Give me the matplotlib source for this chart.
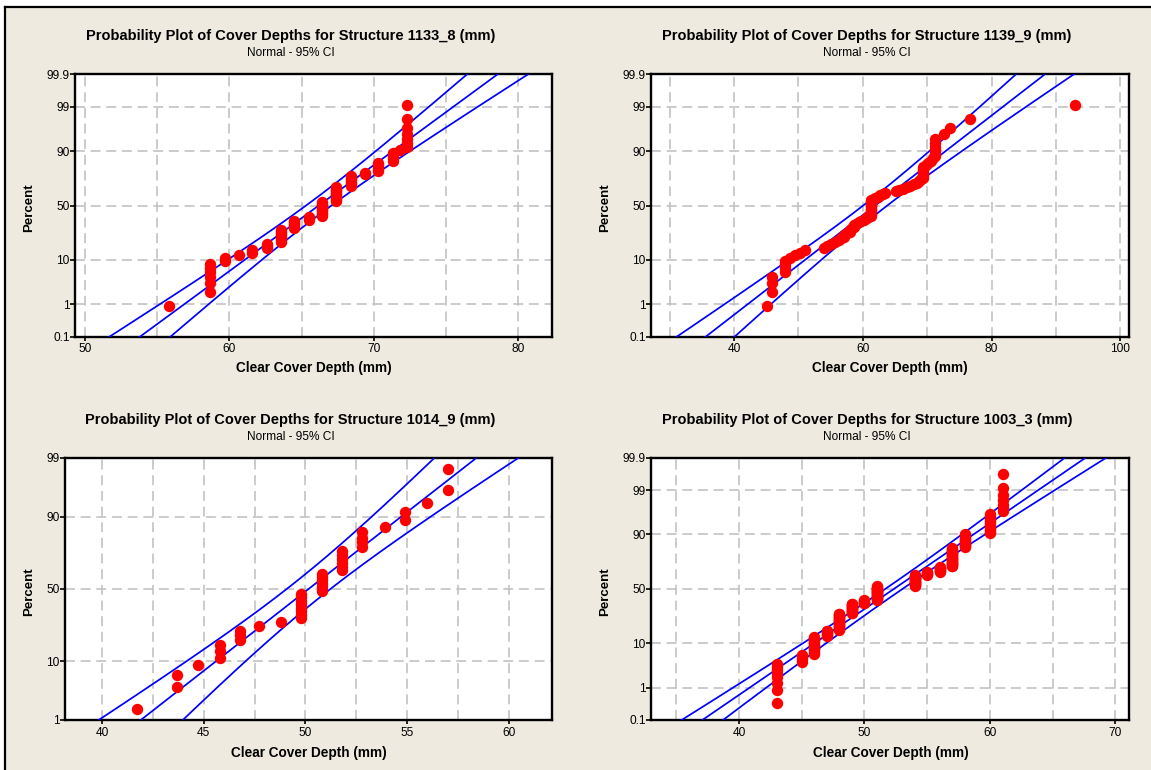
import math
from statistics import NormalDist
import numpy as np
import matplotlib
matplotlib.use("Agg")
import matplotlib.pyplot as plt
from matplotlib.patches import Rectangle
from matplotlib.lines import Line2D
from matplotlib.ticker import FixedLocator, FixedFormatter

plt.rcParams['font.family'] = ['Liberation Sans', 'DejaVu Sans']

W, H = 1151, 770
BEIGE = '#EEEAE0'

# ---------------- data (distinct depth values and how many readings at each) ----------------
s1_values = [55.8, 58.7, 59.7, 60.7, 61.6, 62.6, 63.6, 64.5, 65.5, 66.4, 67.4, 68.4,
             69.4, 70.3, 71.3, 71.8, 72.3]
s1_counts = [1, 6, 2, 1, 2, 3, 8, 6, 3, 11, 11, 7, 2, 5, 4, 1, 7]

s2_values = [45.1, 45.9, 47.9, 48.7, 49.5, 50.3, 51.0,
             54.0, 54.5, 55.1, 55.7, 56.3,
             56.6, 57.1, 57.5, 58.0, 58.3,
             58.6, 59.0, 59.4, 59.7, 60.2, 60.6,
             61.3,
             61.9, 62.3, 62.7, 63.1, 63.5,
             65.1, 65.6, 66.2, 66.8, 67.4, 67.9, 68.4, 68.8, 69.1,
             69.4,
             69.8, 70.2, 70.6, 70.9,
             71.2,
             72.6, 73.6, 76.6, 92.9]
s2_counts = [1, 3, 4, 1, 1, 1, 1,
             1, 1, 1, 1, 1,
             1, 2, 1, 2, 1,
             2, 1, 1, 1, 1, 2,
             13,
             1, 1, 1, 1, 1,
             1, 1, 1, 1, 1, 1, 1, 1, 1,
             7,
             1, 1, 1, 1,
             6,
             1, 1, 1, 1]

s3_values = [41.7, 43.7, 44.7, 45.8, 46.8, 47.7, 48.8, 49.8, 50.8, 51.8, 52.8, 53.9,
             54.9, 56.0, 57.0]
s3_counts = [1, 2, 1, 3, 3, 1, 1, 8, 6, 6, 4, 1, 2, 1, 2]

s4_values = [43, 45, 46, 47, 48, 49, 50, 51, 54, 55, 56, 57, 58, 60, 61]
s4_counts = [8, 4, 14, 7, 23, 17, 6, 26, 21, 5, 9, 27, 14, 12, 7]

titles = ["Probability Plot of Cover Depths for Structure 1133_8 (mm)",
          "Probability Plot of Cover Depths for Structure 1139_9 (mm)",
          "Probability Plot of Cover Depths for Structure 1014_9 (mm)",
          "Probability Plot of Cover Depths for Structure 1003_3 (mm)"]
subtitle = "Normal - 95% CI"
xlabel = "Clear Cover Depth (mm)"
ylabel = "Percent"

pct_ticks_full = [0.1, 1, 10, 50, 90, 99, 99.9]
pct_labels_full = ['0.1', '1', '10', '50', '90', '99', '99.9']
pct_ticks_short = [1, 10, 50, 90, 99]
pct_labels_short = ['1', '10', '50', '90', '99']

x1_major = [50, 60, 70, 80]
x1_minor = [55, 65, 75]
x2_major = [40, 60, 80, 100]
x2_minor = [30, 50, 70, 90]
x3_major = [40, 45, 50, 55, 60]
x3_minor = [42.5, 47.5, 52.5, 57.5]
x4_major = [40, 50, 60, 70]
x4_minor = [35, 45, 55, 65]

# ---------------- normal probability scale ----------------
_nd = NormalDist()
_inv = np.vectorize(lambda q: _nd.inv_cdf(q), otypes=[float])
_erf = np.vectorize(math.erf, otypes=[float])


def pct_to_z(p):
    q = np.clip(np.asarray(p, dtype=float) / 100.0, 1e-9, 1 - 1e-9)
    return _inv(q)


def z_to_pct(z):
    return 50.0 * (1.0 + _erf(np.asarray(z, dtype=float) / math.sqrt(2.0)))


fig = plt.figure(figsize=(W / 100, H / 100), dpi=100)
fig.patch.set_facecolor('white')
fig.add_artist(Rectangle((4.5 / W, 0), 1 - 4.5 / W, 1 - 6.5 / H, transform=fig.transFigure,
                         facecolor=BEIGE, edgecolor='none', zorder=-10))
fig.add_artist(Line2D([4.5 / W, 1], [1 - 6.5 / H] * 2, transform=fig.transFigure,
                      color='black', lw=1.6, zorder=-9))
fig.add_artist(Line2D([4.5 / W] * 2, [0, 1 - 6.5 / H], transform=fig.transFigure,
                      color='black', lw=1.6, zorder=-9))

GRID = dict(color='#C0C0C0', linestyle=(0, (6.2, 3.6)), linewidth=1.15)


def panel(box, values, counts, title, xlim, major, minor, pticks, plabels,
          title_cx, title_base, sub_base, xl_base, yl_x, yl_y):
    left, top, right, bottom = box
    ax = fig.add_axes([left / W, 1 - bottom / H, (right - left) / W, (bottom - top) / H])
    ax.set_facecolor('white')
    ax.set_yscale('function', functions=(pct_to_z, z_to_pct))

    x = np.repeat(np.asarray(values, dtype=float), counts)
    n = len(x)
    ranks = np.arange(1, n + 1)
    pct = 100.0 * (ranks - 0.3) / (n + 0.4)
    mu = x.mean()
    sd = x.std(ddof=1)

    zz = np.linspace(-4.0, 4.0, 401)
    pp = z_to_pct(zz)
    mid = mu + zz * sd
    half = 1.96 * sd * np.sqrt((1 + zz ** 2 / 2.0) / n)
    for xs in (mid - half, mid, mid + half):
        ax.plot(xs, pp, color='#0000FF', lw=1.25, zorder=3)
    ax.plot(x, pct, 'o', color='#FF0000', ms=8.2, mew=0, zorder=5)

    ax.set_xlim(*xlim)
    ax.set_ylim(pticks[0], pticks[-1])
    ax.xaxis.set_major_locator(FixedLocator(major))
    ax.xaxis.set_minor_locator(FixedLocator(minor))
    ax.yaxis.set_major_locator(FixedLocator(pticks))
    ax.yaxis.set_major_formatter(FixedFormatter(plabels))
    ax.yaxis.set_minor_locator(FixedLocator([]))
    ax.set_axisbelow(True)
    ax.xaxis.grid(True, which='both', **GRID)
    ax.yaxis.grid(True, which='major', **GRID)

    for s in ax.spines.values():
        s.set_linewidth(1.7)
        s.set_color('black')
    ax.tick_params(axis='x', which='major', direction='out', length=3.1, width=1.2,
                   pad=1.6, labelsize=8.6, colors='black')
    ax.tick_params(axis='x', which='minor', length=0)
    ax.tick_params(axis='y', which='major', direction='out', length=3.6, width=1.2,
                   pad=0.6, labelsize=8.6, colors='black')

    fig.text(title_cx / W, 1 - title_base / H, title, ha='center', va='baseline',
             fontsize=10.5, fontweight='bold')
    fig.text(title_cx / W, 1 - sub_base / H, subtitle, ha='center', va='baseline',
             fontsize=8.6)
    fig.text((left + right) / 2 / W, 1 - xl_base / H, xlabel, ha='center', va='baseline',
             fontsize=9.8, fontweight='bold')
    fig.text(yl_x / W, 1 - yl_y / H, ylabel, ha='center', va='center', rotation=90,
             fontsize=9.5, fontweight='bold')
    return ax


panel((75.4, 74.3, 551.5, 336.7), s1_values, s1_counts, titles[0], (49.36, 82.29),
      x1_major, x1_minor, pct_ticks_full, pct_labels_full,
      290.4, 40.0, 56.5, 372.0, 29.5, 208.0)
panel((651.4, 74.3, 1128.6, 336.7), s2_values, s2_counts, titles[1], (27.14, 101.3),
      x2_major, x2_minor, pct_ticks_full, pct_labels_full,
      866.8, 40.0, 56.5, 372.0, 605.5, 208.0)
panel((65.4, 457.7, 552.2, 720.0), s3_values, s3_counts, titles[2], (38.19, 62.15),
      x3_major, x3_minor, pct_ticks_short, pct_labels_short,
      290.4, 424.0, 440.5, 756.5, 29.5, 592.0)
panel((651.4, 457.7, 1129.3, 720.0), s4_values, s4_counts, titles[3], (33.03, 71.1),
      x4_major, x4_minor, pct_ticks_full, pct_labels_full,
      866.8, 424.0, 440.5, 756.5, 605.5, 592.0)

fig.savefig('out.png', dpi=100, facecolor=fig.get_facecolor())
